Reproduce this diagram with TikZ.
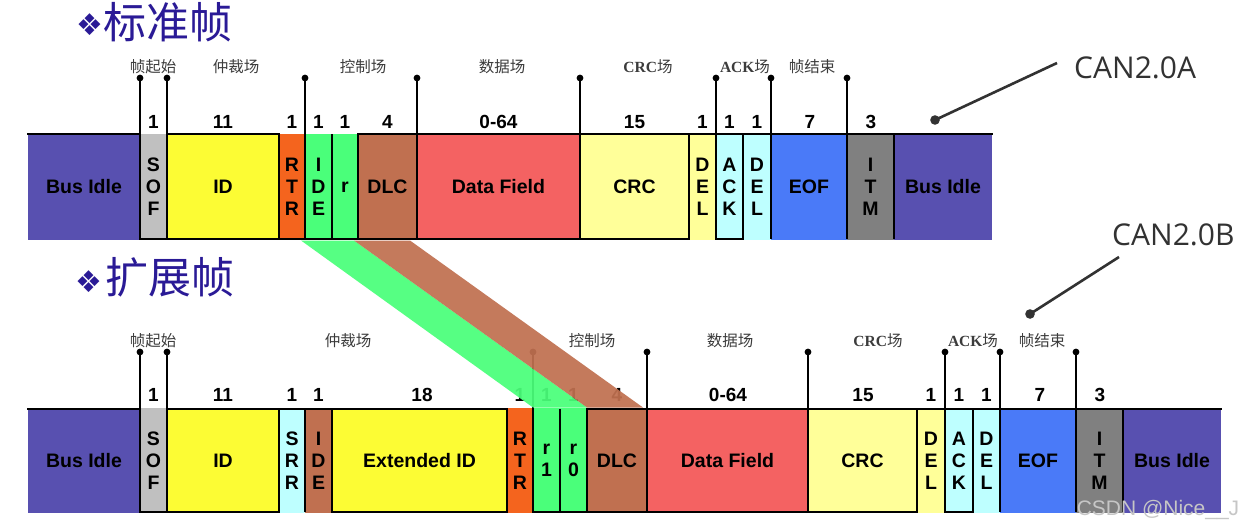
\documentclass[tikz,border=0pt]{standalone}
\usepackage{fontspec}
\setmainfont{Liberation Sans}
\newfontfamily\cjk{Noto Sans CJK SC}
\newfontfamily\tms{Liberation Serif}
\newfontfamily\osans{Open Sans}
\newfontfamily\djv{DejaVu Sans}
\definecolor{busc}{RGB}{88,80,176}
\definecolor{sofc}{RGB}{192,192,192}
\definecolor{idc}{RGB}{252,252,52}
\definecolor{rtrc}{RGB}{244,100,30}
\definecolor{grnc}{RGB}{74,255,122}
\definecolor{brnc}{RGB}{192,112,80}
\definecolor{datc}{RGB}{244,98,98}
\definecolor{crcc}{RGB}{255,255,153}
\definecolor{ackc}{RGB}{190,255,255}
\definecolor{eofc}{RGB}{74,122,248}
\definecolor{itmc}{RGB}{128,128,128}
\definecolor{titc}{RGB}{42,26,150}
\definecolor{labc}{RGB}{60,60,60}
\definecolor{canc}{RGB}{50,50,50}
\tikzset{
 fbox/.style={rectangle,inner sep=0pt,outer sep=0pt,draw=none,align=center,
   font=\bfseries\fontsize{19.5}{22}\selectfont,text=black},
 numl/.style={inner sep=0pt,font=\bfseries\fontsize{19}{22}\selectfont},
 lab/.style={inner sep=0pt,text=labc,font=\cjk\fontsize{15.5}{15.5}\selectfont},
 frame/.style={line width=2.8pt,line cap=rect},
 pinl/.style={line width=2pt},
 title/.style={inner sep=0pt,text=titc,font=\cjk\fontsize{43}{43}\selectfont},
 diam/.style={inner sep=0pt,text=titc,font=\djv\fontsize{30}{30}\selectfont},
 can/.style={inner sep=0pt,anchor=west,text=canc,font=\osans\fontsize{30}{30}\selectfont},
 ptr/.style={line width=2.6pt,draw=canc},
 wm/.style={inner sep=0pt,text=gray!45,font=\fontsize{21}{21}\selectfont},
}
\newcommand\topfld[5]{\pgfmathsetmacro\fldw{#3-#2}\pgfmathsetmacro\fldc{(#3+#2)/2}%
  \node[fbox,fill=#4,minimum width=\fldw pt,minimum height=106pt] (#1) at (\fldc,187) {#5};}
\newcommand\botfld[5]{\pgfmathsetmacro\fldw{#3-#2}\pgfmathsetmacro\fldc{(#3+#2)/2}%
  \node[fbox,fill=#4,minimum width=\fldw pt,minimum height=105pt] (#1) at (\fldc,460.5) {#5};}
\begin{document}
\begin{tikzpicture}[x=1pt,y=-1pt]
\useasboundingbox (0,0) rectangle (1246,530);
\fill[white] (0,0) rectangle (1246,530);

% ---------- titles ----------
\node[diam] (d1) at (90,25) {❖};
\node[title] (t1) at (168,22) {标准帧};
\node[diam] (d2) at (89,282) {❖};
\node[title] (t2) at (170,277) {扩展帧};

% ---------- standard frame ----------
\topfld{a1}{28}{140}{busc}{Bus Idle}
\topfld{a2}{140}{167}{sofc}{S\\O\\F}
\topfld{a3}{167}{279}{idc}{ID}
\topfld{a4}{279}{305}{rtrc}{R\\T\\R}
\topfld{a5}{305}{332}{grnc}{I\\D\\E}
\topfld{a6}{332}{358}{grnc}{r}
\topfld{a7}{358}{417}{brnc}{DLC}
\topfld{a8}{417}{580}{datc}{Data Field}
\topfld{a9}{580}{689}{crcc}{CRC}
\topfld{a10}{689}{716}{crcc}{D\\E\\L}
\topfld{a11}{716}{743}{ackc}{A\\C\\K}
\topfld{a12}{743}{771}{ackc}{D\\E\\L}
\topfld{a13}{771}{847}{eofc}{EOF}
\topfld{a14}{847}{894}{itmc}{I\\T\\M}
\topfld{a15}{894}{992}{busc}{Bus Idle}

\draw[frame] (28,134) -- (140,134) (167,134) -- (279,134) (358,134) -- (992,134);
\draw[frame] (140,239) -- (689,239) (716,239) -- (743,239);
\foreach \x in {140,167,279,305,332,358,417,580,689,716,743,771,847,894}
  {\draw[frame,line cap=butt] (\x,134) -- (\x,239);}

\foreach \x/\t in {153.5/1,223/11,292/1,318.5/1,345/1,387.5/4,498.5/0-64,634.5/15,702.5/1,729.5/1,757/1,810/7,871/3}
  {\node[numl] at (\x,122) {\t};}

\foreach \x in {140,167,305,417,580,716,771,847}
  {\draw[pinl] (\x,78) -- (\x,134); \fill (\x,78) circle (3.4pt);}

\node[lab] (la1) at (153,67) {帧起始};
\node[lab] (la2) at (236,67) {仲裁场};
\node[lab] (la3) at (363,67) {控制场};
\node[lab] (la4) at (502,67) {数据场};
\node[lab] (la5) at (648,67) {{\tms\bfseries CRC}场};
\node[lab] (la6) at (745,67) {{\tms\bfseries ACK}场};
\node[lab] (la7) at (812,67) {帧结束};

% ---------- extended frame ----------
\botfld{b1}{28}{140}{busc}{Bus Idle}
\botfld{b2}{140}{167}{sofc}{S\\O\\F}
\botfld{b3}{167}{279}{idc}{ID}
\botfld{b4}{279}{305}{ackc}{S\\R\\R}
\botfld{b5}{305}{332}{brnc}{I\\D\\E}
\botfld{b6}{332}{507}{idc}{Extended ID}
\botfld{b7}{507}{533}{rtrc}{R\\T\\R}
\botfld{b8}{533}{560}{grnc}{r\\1}
\botfld{b9}{560}{587}{grnc}{r\\0}
\botfld{b10}{587}{647}{brnc}{DLC}
\botfld{b11}{647}{808}{datc}{Data Field}
\botfld{b12}{808}{917}{crcc}{CRC}
\botfld{b13}{917}{945}{crcc}{D\\E\\L}
\botfld{b14}{945}{973}{ackc}{A\\C\\K}
\botfld{b15}{973}{1000}{ackc}{D\\E\\L}
\botfld{b16}{1000}{1076}{eofc}{EOF}
\botfld{b17}{1076}{1123}{itmc}{I\\T\\M}
\botfld{b18}{1123}{1221}{busc}{Bus Idle}

\draw[frame] (28,409) -- (140,409) (167,409) -- (507,409) (587,409) -- (1221,409);
\draw[frame] (140,512) -- (279,512) (332,512) -- (507,512) (533,512) -- (917,512) (945,512) -- (973,512);
\foreach \x in {140,167,279,305,332,507,533,560,587,647,808,917,945,973,1000,1076,1123}
  {\draw[frame,line cap=butt] (\x,409) -- (\x,512);}

\foreach \x/\t in {153.5/1,223/11,292/1,318.5/1,422/18,520/1,546.5/1,573.5/1,617/4,728/0-64,863/15,931/1,959/1,986.5/1,1040/7,1100/3}
  {\node[numl] at (\x,395) {\t};}

\foreach \x in {140,167,533,647,808,945,1000,1076}
  {\draw[pinl] (\x,352) -- (\x,409); \fill (\x,352) circle (3.4pt);}

\node[lab] (lb1) at (153,341) {帧起始};
\node[lab] (lb2) at (348,341) {仲裁场};
\node[lab] (lb3) at (592,341) {控制场};
\node[lab] (lb4) at (730,341) {数据场};
\node[lab] (lb5) at (878,341) {{\tms\bfseries CRC}场};
\node[lab] (lb6) at (973,341) {{\tms\bfseries ACK}场};
\node[lab] (lb7) at (1042,341) {帧结束};

% ---------- mapping bands ----------
\fill[grnc,opacity=0.93] (301,240.5) -- (354,240.5) -- (587,407.5) -- (533,407.5) -- cycle;
\fill[brnc,opacity=0.93] (354,240.5) -- (410,240.5) -- (643,407.5) -- (587,407.5) -- cycle;

% ---------- version labels ----------
\node[can] (canA) at (1074,68) {CAN2.0A};
\coordinate (pA) at (935,120);
\coordinate (eA) at (1057,63);
\draw[ptr] (pA) -- (eA);
\fill[canc] (pA) circle (4.8pt);

\node[can] (canB) at (1112,235) {CAN2.0B};
\coordinate (pB) at (1030,314);
\coordinate (eB) at (1119,257);
\draw[ptr] (pB) -- (eB);
\fill[canc] (pB) circle (4.8pt);

\node[wm] (wm) at (1158,510) {CSDN @Nice\_\_J};
\end{tikzpicture}
\end{document}
